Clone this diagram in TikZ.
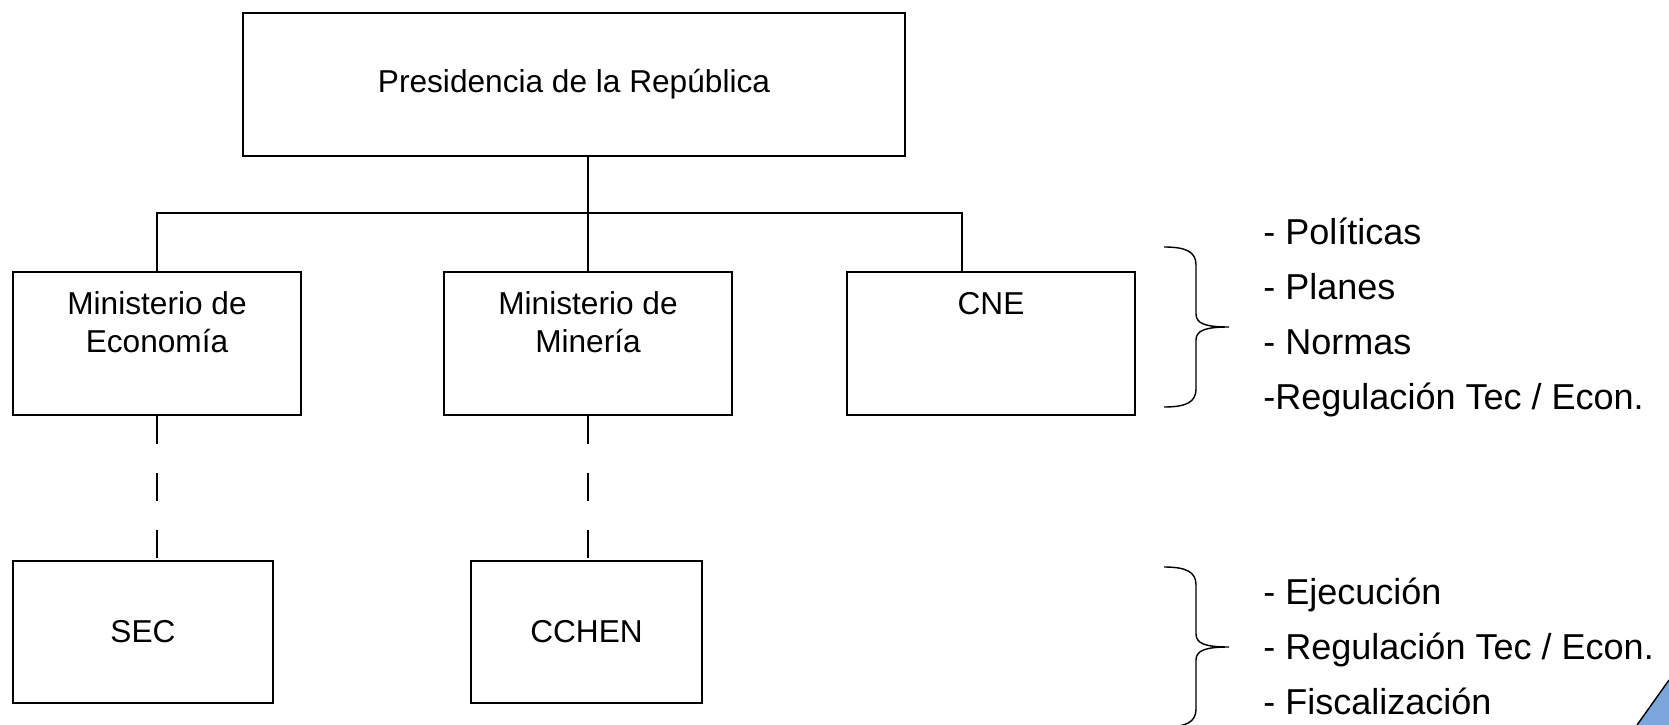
\documentclass[tikz,border=0pt]{standalone}
\usepackage{fontspec}
\setmainfont{Liberation Sans}
\usetikzlibrary{positioning}
\definecolor{corner-blue}{HTML}{7AA6DB}
\newcommand{\rightbrace}[4]{% left x, top, middle, bottom
  \draw[link] (#1,#2) .. controls ({#1+0.45},#2) and ({#1+0.64},{#2-0.1}) .. ({#1+0.64},{#2-0.36})
    -- ({#1+0.64},{#3+0.26}) .. controls ({#1+0.64},{#3+0.06}) and ({#1+0.85},#3) .. ({#1+1.3},#3)
    .. controls ({#1+0.85},#3) and ({#1+0.64},{#3-0.06}) .. ({#1+0.64},{#3-0.26})
    -- ({#1+0.64},{#4+0.36}) .. controls ({#1+0.64},{#4+0.1}) and ({#1+0.45},#4) .. (#1,#4);
}

\begin{document}
\begin{tikzpicture}[
  box/.style={draw, line width=1pt, inner sep=0pt, align=center, font=\fontsize{18}{21.6}\selectfont},
  toptext/.style={box, minimum width=5.76cm, text height=1.62cm, text depth=1.24cm},
  list/.style={inner sep=0pt, align=left, font=\fontsize{20.5}{31.3}\selectfont},
  link/.style={line width=0.8pt},
  dashed link/.style={link, dash pattern=on 0.56cm off 0.58cm}
]
\useasboundingbox (0,0) rectangle (33.38,-14.5);

% Presidencia
\node[box, minimum width=13.24cm, minimum height=2.86cm] (pres) at (11.48,-1.69) {Presidencia de la República};

% Ministerios y CNE
\node[toptext, anchor=north] (mecon) at (3.14,-5.42) {Ministerio de\\Economía};
\node[toptext, anchor=north] (mmin) at (11.76,-5.42) {Ministerio de\\Minería};
\node[toptext, text height=0.86cm, text depth=2.0cm, anchor=north] (cne) at (19.82,-5.42) {CNE};

% Organismos
\node[box, minimum width=5.2cm, minimum height=2.84cm, below=2.88cm of mecon.south west, anchor=north west] (sec) {SEC};
\node[box, minimum width=4.62cm, minimum height=2.84cm, below right=2.88cm and 0.54cm of mmin.south west] (cchen) {CCHEN};

% Lines
\coordinate (bar) at (0,-4.26);
\coordinate (cnein) at ([xshift=-0.58cm]cne.north);
\draw[link] (pres.south -| mmin.north) -- (mmin.north);
\draw[link] (mecon.north) -- (mecon.north |- bar) -- (cnein |- bar) -- (cnein);
\draw[dashed link] (mecon.south) -- (mecon.south |- sec.north);
\draw[dashed link] (mmin.south) -- (mmin.south |- cchen.north);

% Roles
\rightbrace{23.28}{-4.94}{-6.54}{-8.14}
\rightbrace{23.28}{-11.34}{-12.94}{-14.54}
\node[list, anchor=west] (rolesup) at (25.26,-6.35) {- Políticas\\- Planes\\- Normas\\-Regulación Tec / Econ.};
\node[list, anchor=west] (roleslow) at (25.26,-12.92) {- Ejecución\\- Regulación Tec / Econ.\\- Fiscalización};

% Corner
\fill[corner-blue] (32.74,-14.5) -- (33.38,-13.6) -- (33.38,-14.5) -- cycle;
\draw[link] (32.74,-14.5) -- (33.38,-13.6);
\end{tikzpicture}
\end{document}
